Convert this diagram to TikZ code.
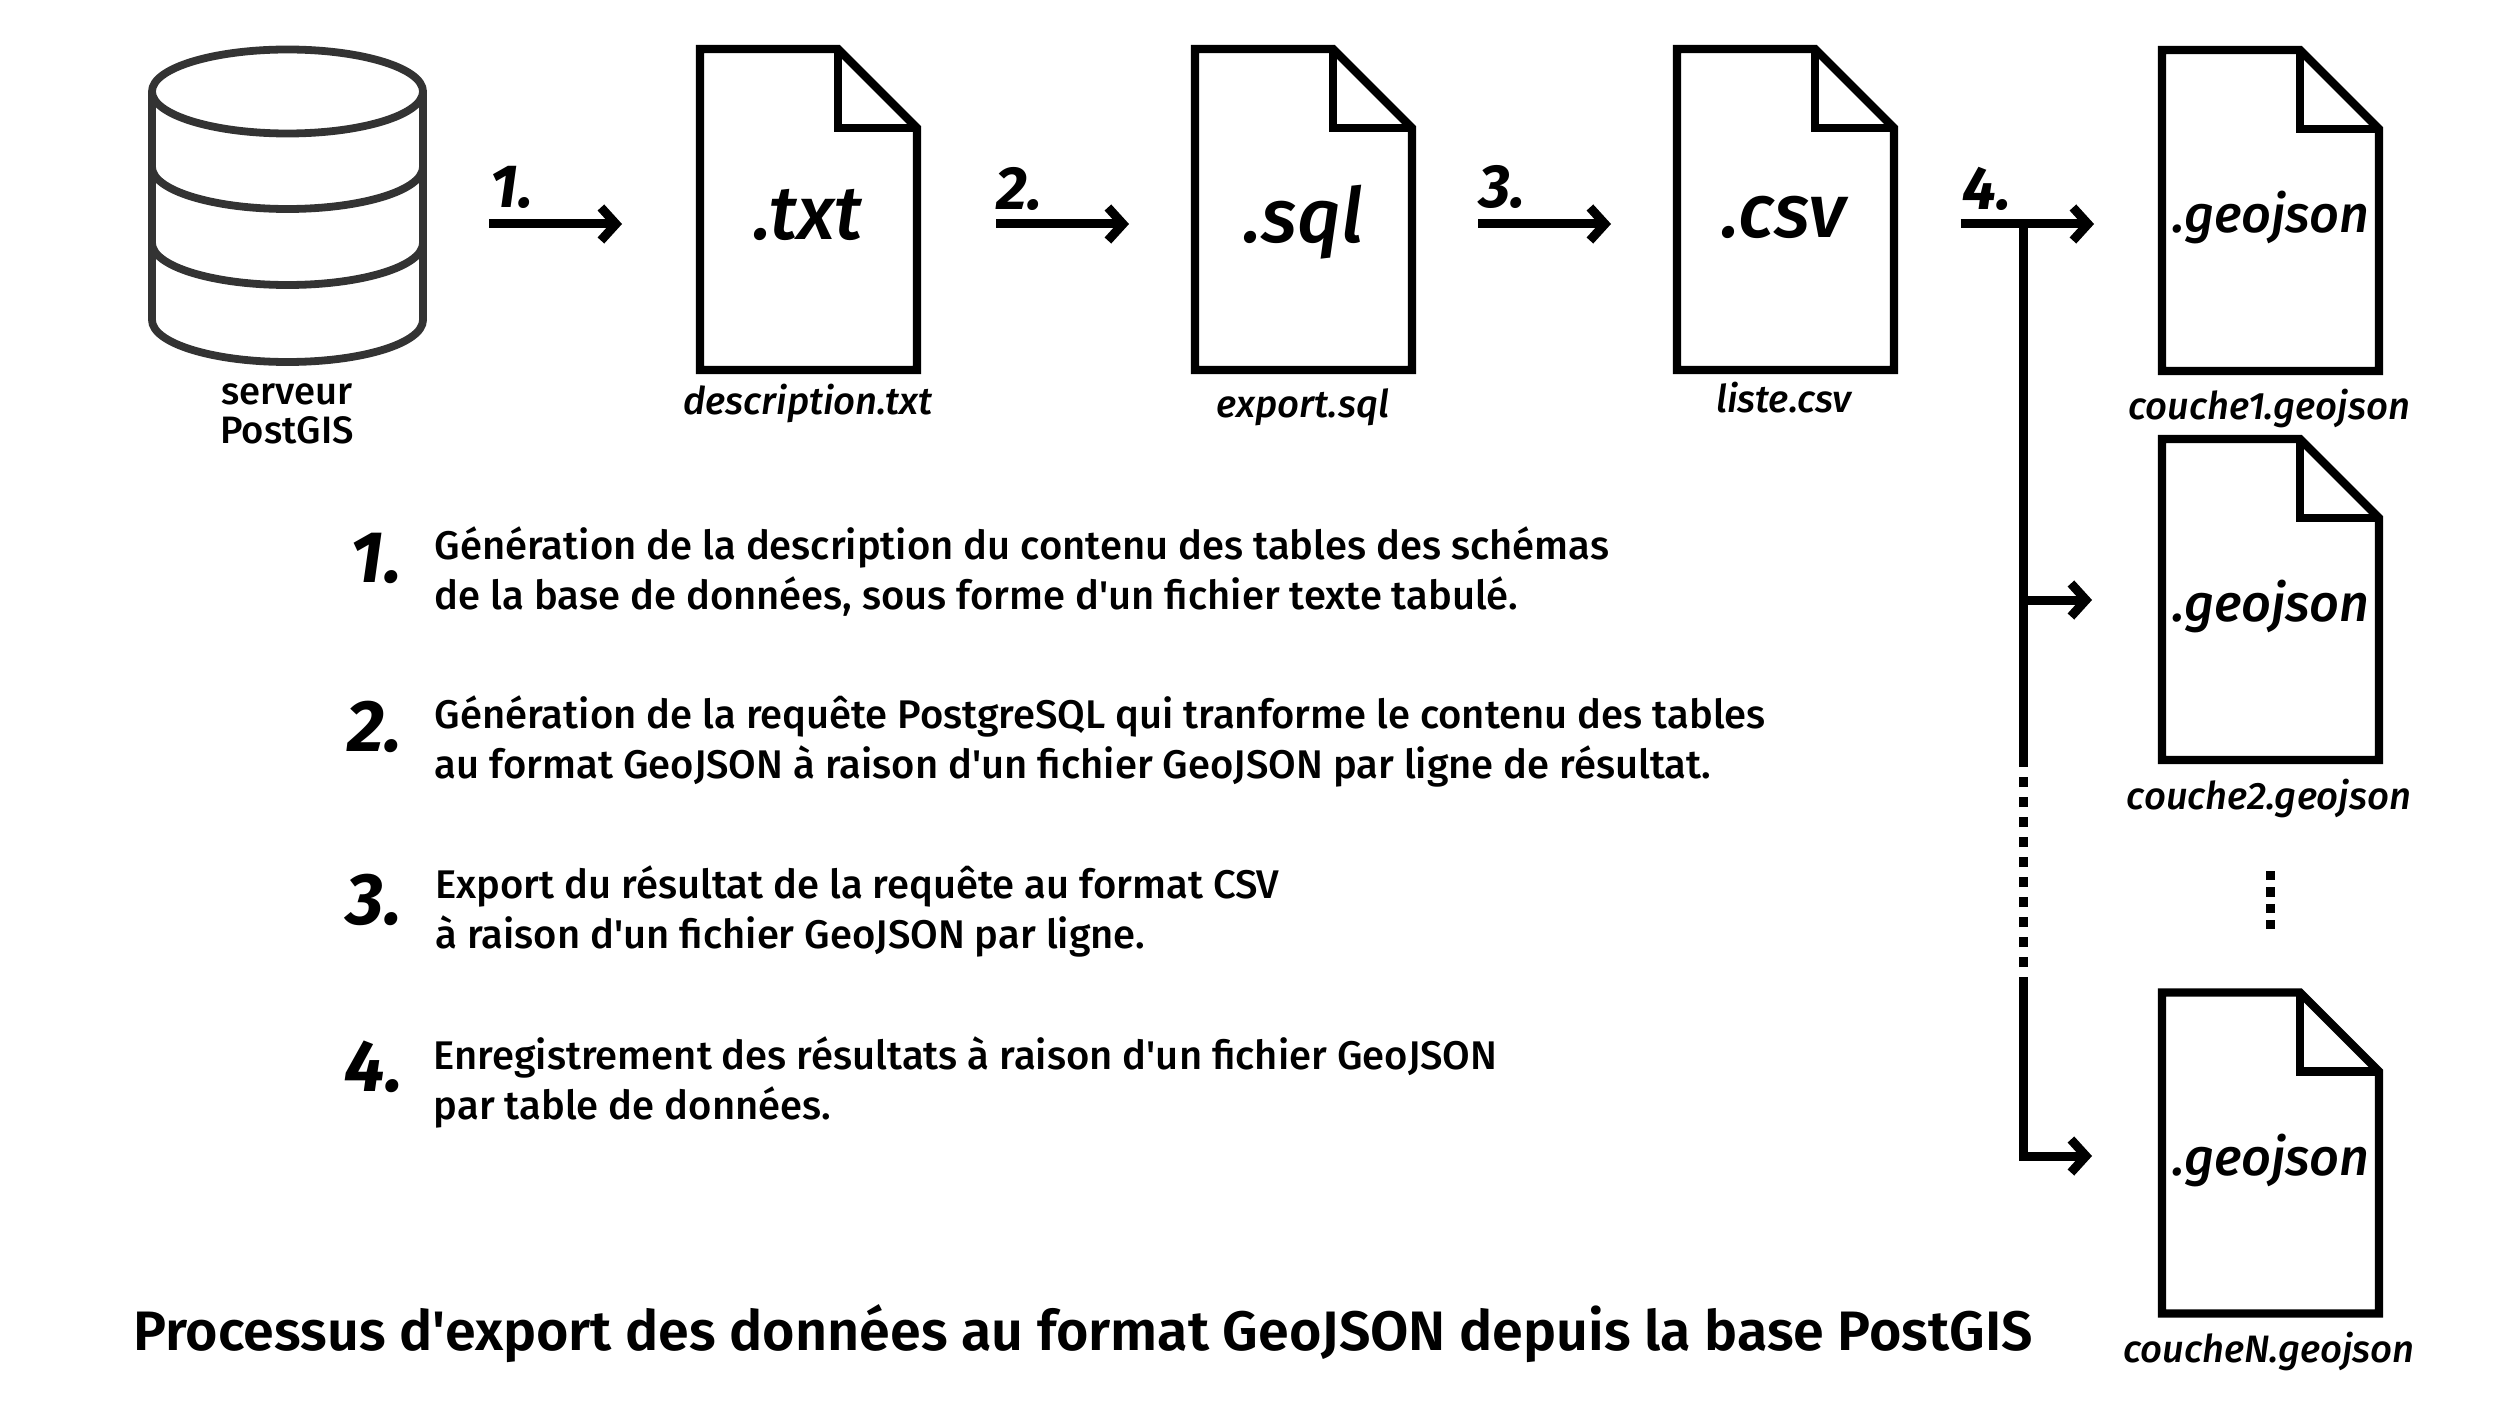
\documentclass[tikz,border=0pt]{standalone}
\usepackage{fontspec}
\setmainfont{Fira Sans Medium}[Ligatures=TeXOff,ItalicFont={Fira Sans Medium Italic},BoldFont={Fira Sans SemiBold},BoldItalicFont={Fira Sans Bold Italic}]
\usetikzlibrary{arrows.meta}
\definecolor{cylcolor}{HTML}{333333}
\tikzstyle{docfile}=[rectangle,minimum width=108.5pt,minimum height=160.5pt,inner sep=0,outer sep=0]
\tikzstyle{docline}=[draw=black,line width=4.1pt,line join=miter,miter limit=10]
\tikzstyle{cylline}=[draw=cylcolor,line width=3.9pt]
\tikzstyle{flow}=[draw=black,line width=4.5pt,line join=miter,-{Straight Barb[length=7.5pt,width=16.5pt,line width=4.5pt]}]
\tikzstyle{bus}=[draw=black,line width=4.5pt]
\tikzstyle{busdots}=[draw=black,line width=4.5pt,dash pattern=on 5pt off 5pt]
\tikzstyle{vdots}=[draw=black,line width=4.5pt,dash pattern=on 4.6pt off 3.6pt]
\tikzstyle{bigext}=[font=\fontsize{38}{40}\selectfont\itshape,anchor=base,inner sep=0]
\tikzstyle{geoext}=[font=\fontsize{26}{28}\selectfont\itshape,anchor=base,inner sep=0]
\tikzstyle{fname}=[font=\fontsize{19.1}{24}\selectfont\itshape,anchor=base,inner sep=0]
\tikzstyle{steptag}=[font=\fontsize{30.5}{32}\selectfont\bfseries\itshape,anchor=base west,inner sep=0]
\tikzstyle{bignum}=[font=\fontsize{36.5}{38}\selectfont\bfseries\itshape,anchor=base east,inner sep=0]
\tikzstyle{body}=[font=\fontsize{20}{25}\selectfont,anchor=base west,align=left,inner sep=0]
\tikzstyle{server}=[font=\fontsize{19.1}{19.5}\selectfont,anchor=base,align=center,inner sep=0]
\tikzstyle{headline}=[font=\fontsize{27.8}{30}\selectfont\bfseries,anchor=base west,inner sep=0]
\newcommand{\foldfile}[1]{
	\draw [style=docline] (#1.north west) -- ++(138,0) coordinate (#1f) -- ++(79,79) coordinate (#1c) -- (#1.south east) -- (#1.south west) -- cycle;
	\draw [style=docline] (#1f) -- ++(0,79) -- (#1c);
}
\begin{document}
\begin{tikzpicture}[x=0.5pt,y=-0.5pt]
	\useasboundingbox (0,0) rectangle (2520,1417);
	% database
	\draw [style=cylline] (287.5,91.5) ellipse (135.5 and 42);
	\draw [style=cylline] (152,91.5) -- (152,320) arc[start angle=180,end angle=0,x radius=135.5,y radius=42] -- (423,91.5);
	\draw [style=cylline] (152,167) arc[start angle=180,end angle=0,x radius=135.5,y radius=42];
	\draw [style=cylline] (152,243) arc[start angle=180,end angle=0,x radius=135.5,y radius=42];
	\node [style=server] (srv) at (287,443.5) {serveur\\PostGIS};
	% files
	\node [style=docfile] (txt) at (808.5,209.5) {};
	\node [style=docfile] (sql) at (1303.5,209.5) {};
	\node [style=docfile] (csv) at (1785.5,209.5) {};
	\node [style=docfile] (geo1) at (2270.5,210.5) {};
	\node [style=docfile] (geo2) at (2270.5,599.5) {};
	\node [style=docfile] (geoN) at (2270.5,1153) {};
	\foldfile{txt}
	\foldfile{sql}
	\foldfile{csv}
	\foldfile{geo1}
	\foldfile{geo2}
	\foldfile{geoN}
	\node [style=bigext] (txtext) at (808,240) {.txt};
	\node [style=bigext] (sqlext) at (1303,243) {.sql};
	\node [style=bigext] (csvext) at (1784,238) {.csv};
	\node [style=geoext] (geo1ext) at (2271,233) {.geojson};
	\node [style=geoext] (geo2ext) at (2271,621) {.geojson};
	\node [style=geoext] (geoNext) at (2271,1175) {.geojson};
	\node [style=fname] (txtname) at (808,415) {description.txt};
	\node [style=fname] (sqlname) at (1303,417) {export.sql};
	\node [style=fname] (csvname) at (1784,412) {liste.csv};
	\node [style=fname] (geo1name) at (2269,419) {couche1.geojson};
	\node [style=fname] (geo2name) at (2269,809) {couche2.geojson};
	\node [style=fname] (geoNname) at (2269,1362) {coucheN.geojson};
	% arrows
	\coordinate (s1) at (489,224);
	\coordinate (s2) at (996,224);
	\coordinate (s3) at (1478,224);
	\coordinate (s4) at (1960.5,224);
	\coordinate (b2) at (2023,600);
	\coordinate (b3) at (2023,1156);
	\coordinate (cut1) at (2023,757);
	\coordinate (cut2) at (2023,980);
	\draw [style=flow,shorten >=39pt] (s1) -- (txt.west |- s1);
	\draw [style=flow,shorten >=33pt] (s2) -- (sql.west |- s2);
	\draw [style=flow,shorten >=33pt] (s3) -- (csv.west |- s3);
	\draw [style=flow,shorten >=34pt] (s4) -- (geo1.west |- s4);
	\draw [style=bus] (2023,224) -- (cut1);
	\draw [style=busdots] (cut1) -- (cut2);
	\draw [style=flow,shorten >=35pt] (b2) -- (geo2.west |- b2);
	\draw [style=flow,shorten >=35pt] (cut2) |- (geoN.west |- b3);
	\coordinate (dot1) at (2270,871);
	\coordinate (dot2) at (2270,931);
	\draw [style=vdots] (dot1) -- (dot2);
	\node [style=steptag] (tag1) at (490,208) {1.};
	\node [style=steptag] (tag2) at (996,210) {2.};
	\node [style=steptag] (tag3) at (1479,208) {3.};
	\node [style=steptag] (tag4) at (1962,210) {4.};
	% legend
	\node [style=bignum] (n1) at (402,582) {1.};
	\node [style=bignum] (n2) at (402,751) {2.};
	\node [style=bignum] (n3) at (402,924) {3.};
	\node [style=bignum] (n4) at (403,1091) {4.};
	\node [style=body] (d1) at (434.5,609) {Génération de la description du contenu des tables des schémas\\de la base de données, sous forme d'un fichier texte tabulé.};
	\node [style=body] (d2) at (434.5,778.5) {Génération de la requête PostgreSQL qui tranforme le contenu des tables\\au format GeoJSON à raison d'un fichier GeoJSON par ligne de résultat.};
	\node [style=body] (d3) at (435,948.5) {Export du résultat de la requête au format CSV\\à raison d'un fichier GeoJSON par ligne.};
	\node [style=body] (d4) at (433.5,1119.5) {Enregistrement des résultats à raison d'un fichier GeoJSON\\par table de données.};
	\node [style=headline] (ttl) at (133,1350.5) {Processus d'export des données au format GeoJSON depuis la base PostGIS};
\end{tikzpicture}
\end{document}
